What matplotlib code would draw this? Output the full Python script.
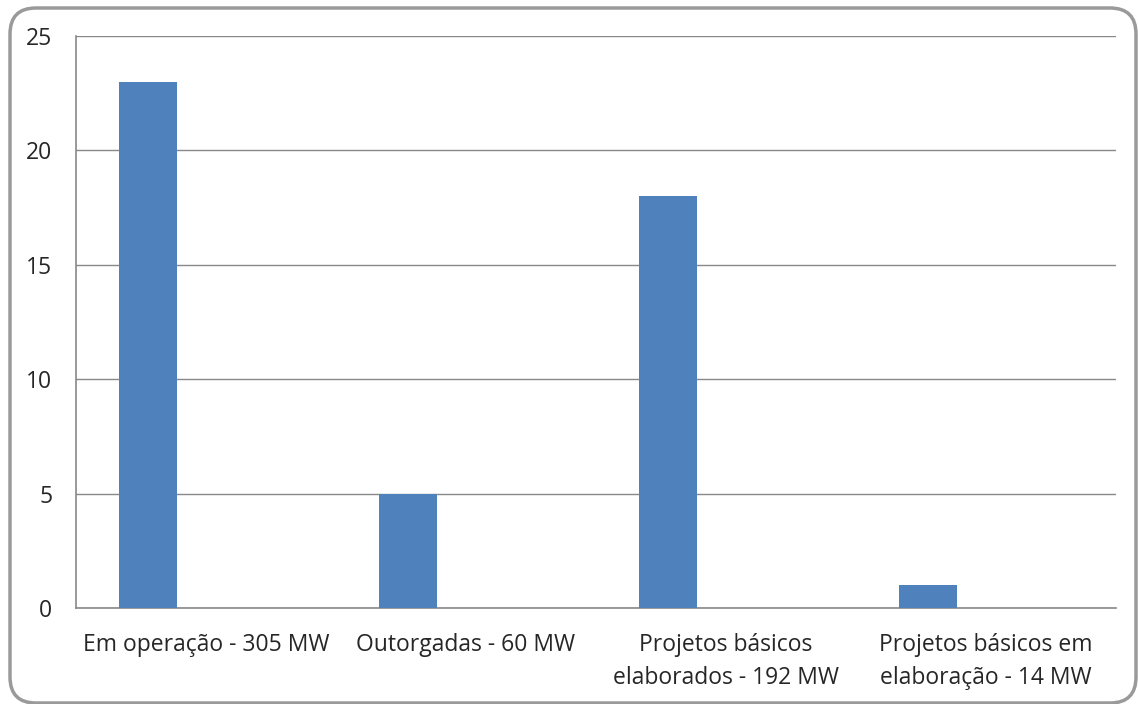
import matplotlib.pyplot as plt
from matplotlib.patches import FancyBboxPatch

categorias = ["Em operação - 305 MW", "Outorgadas - 60 MW",
              "Projetos básicos\nelaborados - 192 MW",
              "Projetos básicos em\nelaboração - 14 MW"]
quantidade = [23, 5, 18, 1]
yticks = [0, 5, 10, 15, 20, 25]

AZUL = "#4F81BD"
CINZA = "#898989"
TEXTO = "#262626"

plt.rcParams["font.family"] = ["Open Sans", "DejaVu Sans"]

fig = plt.figure(figsize=(11.38, 7.04), dpi=100)
ax = fig.add_axes([0.0668, 0.1364, 0.9139, 0.8125])

pos = [i - 0.223 for i in range(len(categorias))]
ax.bar(pos, quantidade, width=0.223, color=AZUL, zorder=3)

ax.set_xlim(-0.5, len(categorias) - 0.5)
ax.set_ylim(0, 25)
ax.set_yticks(yticks)
ax.set_xticks(range(len(categorias)))
ax.set_xticklabels(categorias, fontsize=16.5, color=TEXTO, linespacing=1.5)
ax.tick_params(axis="y", labelsize=16.5, labelcolor=TEXTO, length=0, pad=17)
ax.tick_params(axis="x", length=0, pad=18)

ax.yaxis.grid(True, color=CINZA, linewidth=1.0, zorder=0)
for s in ["top", "right"]:
    ax.spines[s].set_visible(False)
for s in ["left", "bottom"]:
    ax.spines[s].set_color(CINZA)
    ax.spines[s].set_linewidth(1.2)

# moldura arredondada em volta do grafico
moldura = FancyBboxPatch((10, 1), 1126, 695,
                         boxstyle="round,pad=0,rounding_size=26",
                         transform=None, facecolor="none",
                         edgecolor="#9A9A9A", linewidth=2.5)
fig.patches.append(moldura)

fig.savefig("out.png", dpi=100)
